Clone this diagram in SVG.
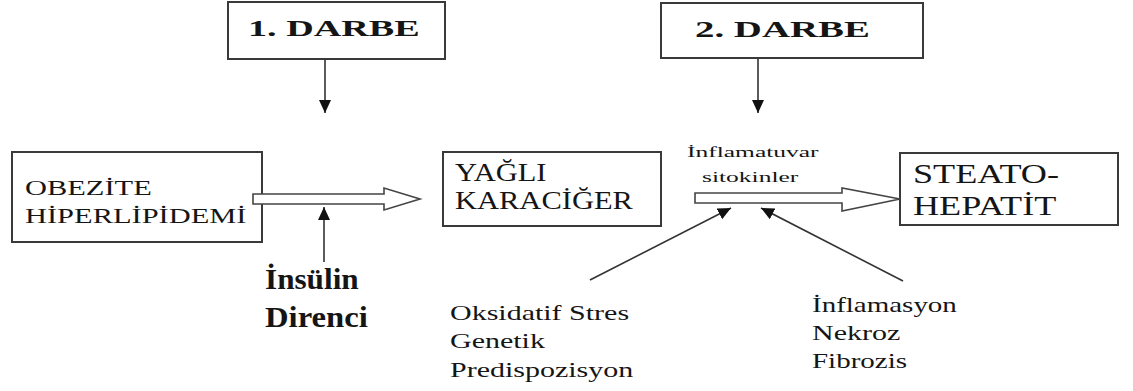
<svg xmlns="http://www.w3.org/2000/svg" width="1133" height="391" viewBox="0 0 1133 391">
<defs>
<marker id="ah" markerUnits="userSpaceOnUse" markerWidth="14" markerHeight="14" viewBox="0 0 14 14" refX="13" refY="7" orient="auto">
<path d="M0,1 L13,7 L0,13 Z" fill="#111"/>
</marker>
<style>
.box{fill:#fff;stroke:#3a3a3a;stroke-width:2}
.ln{stroke:#333;stroke-width:1.6;fill:none}
.hol{fill:#fff;stroke:#444;stroke-width:1.6;stroke-linejoin:miter}
.t{font-family:"Liberation Serif","Times New Roman",serif;fill:#151515}
.b{font-weight:bold}
</style>
</defs>
<rect width="1133" height="391" fill="#fff"/>
<g id="darbe1">
<rect class="box" x="228" y="2" width="217" height="57"/>
<text class="t b" transform="matrix(1.66 0 0 1 248 36)" font-size="23">1. DARBE</text>
</g>
<g id="darbe2">
<rect class="box" x="661" y="3" width="262" height="55"/>
<text class="t b" transform="matrix(1.69 0 0 1 695 37)" font-size="23">2. DARBE</text>
</g>
<g id="obezite">
<rect class="box" x="12" y="152" width="250" height="90"/>
<text class="t" transform="matrix(1.45 0 0 1 25 195)" font-size="21">OBEZİTE</text>
<text class="t" transform="matrix(1.45 0 0 1 25 223)" font-size="21">HİPERLİPİDEMİ</text>
</g>
<g id="yagli">
<rect class="box" x="443" y="152" width="218" height="74"/>
<text class="t" transform="matrix(1.22 0 0 1 455 181)" font-size="25">YAĞLI</text>
<text class="t" transform="matrix(1.22 0 0 1 455 209)" font-size="25">KARACİĞER</text>
</g>
<g id="steato">
<rect class="box" x="900" y="153" width="218" height="72"/>
<text class="t" transform="matrix(1.34 0 0 1 913 183)" font-size="27">STEATO-</text>
<text class="t" transform="matrix(1.34 0 0 1 913 215)" font-size="27">HEPATİT</text>
</g>
<g id="sitokin">
<text class="t" transform="matrix(1.7 0 0 1 687 157)" font-size="15">İnflamatuvar</text>
<text class="t" transform="matrix(1.7 0 0 1 702 182)" font-size="15">sitokinler</text>
</g>
<g id="insulin">
<text class="t b" transform="matrix(1.04 0 0 1 265 289)" font-size="30">İnsülin</text>
<text class="t b" transform="matrix(1.09 0 0 1 265 327)" font-size="30">Direnci</text>
</g>
<g id="oksidatif">
<text class="t" transform="matrix(1.5 0 0 1 450 320)" font-size="20">Oksidatif Stres</text>
<text class="t" transform="matrix(1.5 0 0 1 450 348)" font-size="20">Genetik</text>
<text class="t" transform="matrix(1.5 0 0 1 450 377)" font-size="20">Predispozisyon</text>
</g>
<g id="inflamasyon">
<text class="t" transform="matrix(1.45 0 0 1 812 312)" font-size="20">İnflamasyon</text>
<text class="t" transform="matrix(1.5 0 0 1 812 340)" font-size="20">Nekroz</text>
<text class="t" transform="matrix(1.45 0 0 1 812 368)" font-size="20">Fibrozis</text>
</g>
<g id="connectors">
<line class="ln" x1="325" y1="59" x2="325" y2="113" marker-end="url(#ah)"/>
<line class="ln" x1="758" y1="58" x2="758" y2="113" marker-end="url(#ah)"/>
<path class="hol" d="M253,194 L384,194 L384,188 L420,199 L384,210 L384,204 L253,204 Z"/>
<line class="ln" x1="324" y1="262" x2="324" y2="207" marker-end="url(#ah)"/>
<path class="hol" d="M695,193 L842,193 L842,188 L900,199 L842,211 L842,203 L695,203 Z"/>
<line class="ln" x1="590" y1="280" x2="731" y2="208" marker-end="url(#ah)"/>
<line class="ln" x1="903" y1="281" x2="761" y2="208" marker-end="url(#ah)"/>
</g>
</svg>
